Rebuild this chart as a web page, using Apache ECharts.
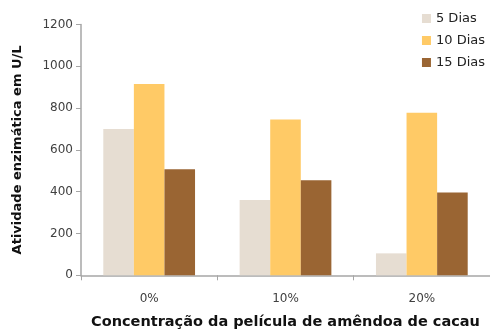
<!DOCTYPE html>
<html><head><meta charset="utf-8">
<script src="https://cdn.jsdelivr.net/npm/echarts@6/dist/echarts.min.js"></script>
<style>html,body{margin:0;padding:0;background:#fff}#c{width:490px;height:332px}</style>
</head><body><div id="c"></div>
<script>
const categories = ['0%', '10%', '20%'];
const seriesNames = ['5 Dias', '10 Dias', '15 Dias'];
const dias5 = [700, 360, 105];
const dias10 = [915, 745, 778];
const dias15 = [507, 455, 396];
const yTicks = [0, 200, 400, 600, 800, 1000, 1200];
const colors = ['#E6DDD2', '#FFCA66', '#9A6533'];
const font = 'DejaVu Sans';
const chart = echarts.init(document.getElementById('c'), null, {renderer: 'canvas'});
const values = [dias5, dias10, dias15];
chart.setOption({
  animation: false,
  textStyle: {fontFamily: font},
  grid: {left: 81, right: 0, top: 24.5, bottom: 56.7, containLabel: false, outerBoundsMode: 'none'},
  legend: {
    orient: 'vertical', right: 0, top: 7, itemWidth: 9, itemHeight: 9, itemGap: 9,
    icon: 'rect',
    textStyle: {fontFamily: font, fontSize: 13, color: '#222'},
    data: seriesNames
  },
  xAxis: {
    type: 'category', data: categories,
    axisLine: {lineStyle: {color: '#A6A6A6', width: 1.5}},
    axisTick: {show: true, length: 5, lineStyle: {color: '#A6A6A6'}},
    axisLabel: {fontFamily: font, fontSize: 12, color: '#404040', margin: 18},
    name: 'Concentração da película de amêndoa de cacau',
    nameLocation: 'middle', nameGap: 39,
    nameTextStyle: {fontFamily: font, fontSize: 14.5, fontWeight: 'bold', color: '#111'}
  },
  yAxis: {
    type: 'value', min: yTicks[0], max: yTicks[yTicks.length - 1], interval: 200,
    axisLine: {show: true, lineStyle: {color: '#A6A6A6', width: 1.5}},
    axisTick: {show: true, length: 5, lineStyle: {color: '#A6A6A6'}},
    splitLine: {show: false},
    axisLabel: {fontFamily: font, fontSize: 12, color: '#404040', margin: 8, formatter: v => String(v)},
    name: 'Atividade enzimática em U/L',
    nameLocation: 'middle', nameGap: 57,
    nameTextStyle: {fontFamily: font, fontSize: 13, fontWeight: 'bold', color: '#111'}
  },
  series: seriesNames.map((n, i) => ({
    name: n, type: 'bar', data: values[i],
    barGap: '0%', barCategoryGap: '32.7%',
    itemStyle: {color: colors[i]}
  }))
});
</script></body></html>
